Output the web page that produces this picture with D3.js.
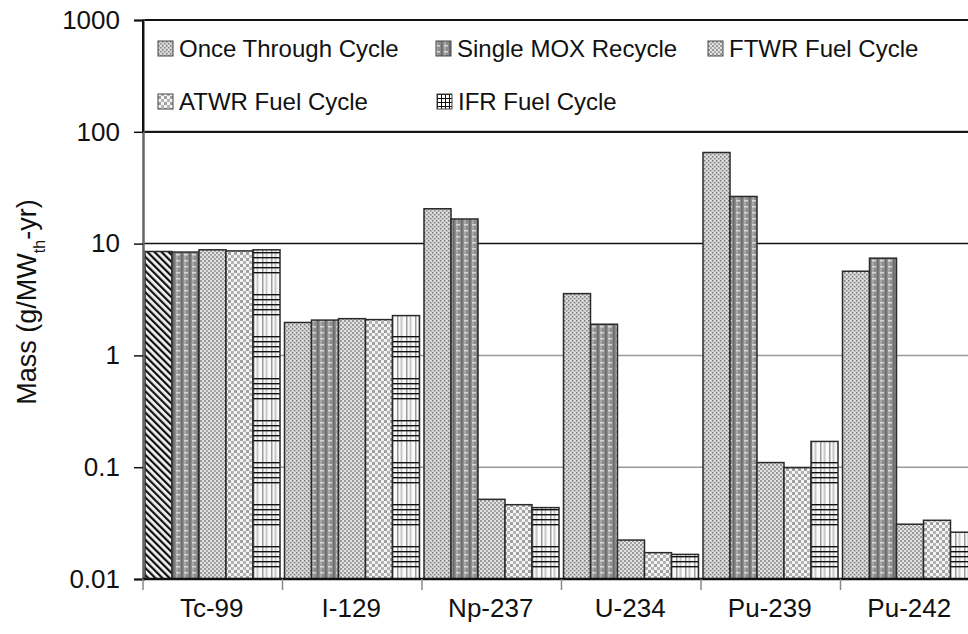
<!DOCTYPE html>
<html>
<head>
<meta charset="utf-8">
<script src="https://cdn.jsdelivr.net/npm/d3@7"></script>
<style>
html,body{margin:0;padding:0;background:#fff;}
svg{display:block;}
text{font-family:"Liberation Sans",Arial,Helvetica,sans-serif;fill:#111;}
</style>
</head>
<body>
<svg id="chart" width="968" height="634"></svg>
<script>
const categories = ["Tc-99","I-129","Np-237","U-234","Pu-239","Pu-242"];
const seriesNames = ["Once Through Cycle","Single MOX Recycle","FTWR Fuel Cycle","ATWR Fuel Cycle","IFR Fuel Cycle"];
const onceThrough = [8.5, 1.97, 20.5, 3.57, 65.3, 5.66];
const singleMox   = [8.4, 2.07, 16.6, 1.90, 26.4, 7.41];
const ftwr        = [8.8, 2.13, 0.0516, 0.0223, 0.110, 0.0309];
const atwr        = [8.6, 2.09, 0.0462, 0.0172, 0.099, 0.0335];
const ifr         = [8.8, 2.27, 0.0435, 0.0166, 0.170, 0.0262];
const yTicks      = [0.01, 0.1, 1, 10, 100, 1000];
const yTickLabels = ["0.01","0.1","1","10","100","1000"];

const seriesValues = [onceThrough, singleMox, ftwr, atwr, ifr];
const patternIds = ["pOnce","pMox","pFtwr","pAtwr","pIfr"];

const svg = d3.select("#chart");
const L = 143, T = 20, B = 579, bandW = 139.5;

const x0 = d3.scaleBand().domain(categories).range([L, L + bandW*categories.length]).padding(0);
const x1 = d3.scaleBand().domain(seriesNames).range([2, 137]).padding(0);
const y = d3.scaleLog().domain([0.01, 1000]).range([B, T]);

// patterns
const defs = svg.append("defs");
let p = defs.append("pattern").attr("id","pOnce").attr("patternUnits","userSpaceOnUse").attr("width",4).attr("height",4);
p.append("rect").attr("width",4).attr("height",4).attr("fill","#d4d4d4");
p.append("rect").attr("x",0).attr("y",0).attr("width",1.5).attr("height",1.5).attr("fill","#7a7a7a");
p.append("rect").attr("x",2).attr("y",2).attr("width",1.5).attr("height",1.5).attr("fill","#8a8a8a");
p.append("rect").attr("x",2).attr("y",0).attr("width",1).attr("height",1).attr("fill","#f0f0f0");

p = defs.append("pattern").attr("id","pMox").attr("patternUnits","userSpaceOnUse").attr("width",8).attr("height",6);
p.append("rect").attr("width",8).attr("height",6).attr("fill","#8c8c8c");
p.append("rect").attr("x",0).attr("y",0).attr("width",2).attr("height",6).attr("fill","#a8a8a8");
p.append("rect").attr("x",5).attr("y",0).attr("width",1.5).attr("height",6).attr("fill","#6a6a6a");
p.append("rect").attr("x",0).attr("y",2).attr("width",4).attr("height",1.5).attr("fill","#d8d8d8");

p = defs.append("pattern").attr("id","pFtwr").attr("patternUnits","userSpaceOnUse").attr("width",4).attr("height",4);
p.append("rect").attr("width",4).attr("height",4).attr("fill","#e2e2e2");
p.append("rect").attr("x",0).attr("y",0).attr("width",2).attr("height",2).attr("fill","#999");
p.append("rect").attr("x",2).attr("y",2).attr("width",2).attr("height",2).attr("fill","#a6a6a6");

p = defs.append("pattern").attr("id","pAtwr").attr("patternUnits","userSpaceOnUse").attr("width",6).attr("height",6);
p.append("rect").attr("width",6).attr("height",6).attr("fill","#f4f4f4");
p.append("rect").attr("x",0).attr("y",0).attr("width",3).attr("height",3).attr("fill","#a0a0a0");
p.append("rect").attr("x",3).attr("y",3).attr("width",3).attr("height",3).attr("fill","#b4b4b4");

p = defs.append("pattern").attr("id","pIfr").attr("patternUnits","userSpaceOnUse").attr("width",9).attr("height",42);
p.append("rect").attr("width",9).attr("height",42).attr("fill","#fafafa");
p.append("rect").attr("x",1).attr("y",0).attr("width",1.5).attr("height",42).attr("fill","#9a9a9a");
p.append("rect").attr("x",4.5).attr("y",0).attr("width",2).attr("height",42).attr("fill","#c8c8c8");
[0,5,10,15,20].forEach(o => p.append("rect").attr("x",0).attr("y",o).attr("width",9).attr("height",1.4).attr("fill","#111"));

p = defs.append("pattern").attr("id","pIfrLeg").attr("patternUnits","userSpaceOnUse").attr("width",4).attr("height",4);
p.append("rect").attr("width",4).attr("height",4).attr("fill","#fff");
p.append("rect").attr("x",0).attr("y",0).attr("width",4).attr("height",1).attr("fill","#111");
p.append("rect").attr("x",0).attr("y",0).attr("width",1).attr("height",4).attr("fill","#111");

p = defs.append("pattern").attr("id","pHatch").attr("patternUnits","userSpaceOnUse").attr("width",5).attr("height",5)
  .attr("patternTransform","rotate(-45)");
p.append("rect").attr("width",5).attr("height",5).attr("fill","#f2f2f2");
p.append("rect").attr("x",0).attr("y",0).attr("width",2.2).attr("height",5).attr("fill","#111");

// gridlines
const gridStyle = {1000:["#111",2],100:["#111",2],10:["#111",1.5],1:["#999",1.5],0.1:["#999",1.5]};
svg.append("g").selectAll("line").data(yTicks.filter(v => v > 0.01)).join("line")
  .attr("x1", L).attr("x2", 968)
  .attr("y1", d => y(d)).attr("y2", d => y(d))
  .attr("stroke", d => gridStyle[d][0]).attr("stroke-width", d => gridStyle[d][1]);

// bars
const flat = [];
categories.forEach((c, ci) => seriesNames.forEach((s, si) => flat.push({c, s, si, ci, v: seriesValues[si][ci]})));
svg.append("g").selectAll("rect").data(flat).join("rect")
  .attr("x", d => x0(d.c) + x1(d.s))
  .attr("width", x1.bandwidth())
  .attr("y", d => y(d.v))
  .attr("height", d => B - y(d.v))
  .attr("fill", d => (d.ci === 0 && d.si === 0) ? "url(#pHatch)" : `url(#${patternIds[d.si]})`)
  .attr("stroke", "#2a2a2a").attr("stroke-width", 1.5);

// legend box
svg.append("rect").attr("x", L).attr("y", T).attr("width", 968 - L + 10).attr("height", y(100) - T)
  .attr("fill", "#fff").attr("stroke", "#111").attr("stroke-width", 2);
const legPos = [[158,49],[436,49],[708,49],[158,102],[437,102]];
const leg = svg.append("g").selectAll("g").data(seriesNames).join("g")
  .attr("transform", (d, i) => `translate(${legPos[i][0]},${legPos[i][1]})`);
leg.append("rect").attr("x",0).attr("y",-8).attr("width",15).attr("height",15)
  .attr("fill", (d, i) => i === 4 ? "url(#pIfrLeg)" : `url(#${patternIds[i]})`)
  .attr("stroke","#444").attr("stroke-width",1);
leg.append("text").attr("x",21).attr("y",0).attr("dy","0.35em")
  .style("font-size","24px").text(d => d);

// y axis
const yAxis = d3.axisLeft(y).tickValues(yTicks).tickFormat((d, i) => yTickLabels[i]).tickSize(9).tickPadding(14);
const ga = svg.append("g").attr("transform", `translate(${L},0)`).call(yAxis);
ga.select(".domain").attr("stroke","#666").attr("stroke-width",2.5);
ga.selectAll(".tick line").attr("stroke","#111").attr("stroke-width",1.5);
ga.selectAll(".tick text").style("font-size","26px").style("font-family","Liberation Sans, Arial, sans-serif").attr("fill","#111");
svg.append("line").attr("x1",L).attr("x2",L).attr("y1",T).attr("y2",y(100)).attr("stroke","#111").attr("stroke-width",2);

// x axis
svg.append("line").attr("x1",L).attr("x2",968).attr("y1",B).attr("y2",B).attr("stroke","#111").attr("stroke-width",2.5);
const bounds = categories.map(c => x0(c));
svg.append("g").selectAll("line").data(bounds).join("line")
  .attr("x1", d => d).attr("x2", d => d).attr("y1", B).attr("y2", B + 11)
  .attr("stroke","#888").attr("stroke-width",1.5);
svg.append("g").selectAll("text").data(categories).join("text")
  .attr("x", d => x0(d) + x0.bandwidth()/2 - 1).attr("y", 617)
  .attr("text-anchor","middle").style("font-size","26px").text(d => d);

// y title
const yt = svg.append("text").attr("transform","translate(36,302) rotate(-90)")
  .attr("text-anchor","middle").style("font-size","27px");
yt.append("tspan").text("Mass (g/MW");
yt.append("tspan").attr("baseline-shift","sub").style("font-size","16px").text("th");
yt.append("tspan").text("-yr)");
</script>
</body>
</html>
